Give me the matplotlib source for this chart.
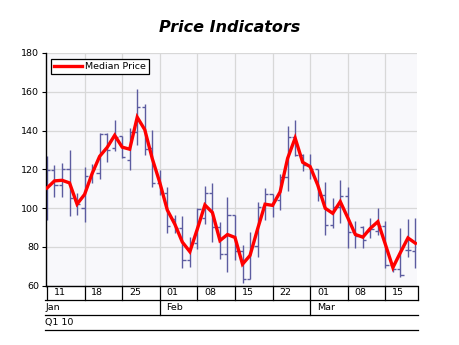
import matplotlib
matplotlib.use("Agg")
import matplotlib.pyplot as plt
import matplotlib.transforms as mtransforms
import numpy as np

# ---- data ----
high = [126.8, 122.2, 123.1, 130.0, 107.6, 121.0, 122.5, 138.5, 138.5, 145.4,
        137.2, 141.1, 161.2, 153.5, 140.3, 119.6, 111.0, 96.4, 95.9, 85.2,
        99.8, 111.4, 112.7, 92.9, 105.5, 96.4, 80.9, 87.8, 103.3, 110.1,
        107.2, 117.6, 142.3, 145.4, 127.9, 127.9, 120.0, 113.6, 105.0, 114.5,
        110.7, 93.5, 90.7, 94.7, 99.8, 93.5, 71.4, 89.5, 94.2, 94.7]
low = [93.8, 105.8, 105.5, 95.9, 96.4, 93.0, 113.0, 114.8, 124.0, 129.6,
       125.6, 119.6, 132.5, 127.4, 110.7, 106.7, 86.9, 86.9, 68.9, 69.7,
       78.7, 91.7, 82.6, 73.5, 67.1, 73.2, 61.1, 63.2, 74.9, 93.8,
       95.5, 99.0, 109.0, 126.8, 119.3, 114.8, 103.8, 86.1, 89.5, 92.1,
       79.2, 79.2, 79.2, 84.3, 86.1, 68.9, 67.1, 64.6, 74.9, 68.9]
open_ = [100.0, 119.6, 112.0, 120.0, 104.0, 100.0, 116.0, 118.0, 138.0, 131.0,
         137.2, 125.0, 139.0, 152.3, 131.0, 113.0, 107.9, 94.2, 89.5, 73.2,
         82.1, 95.0, 107.9, 90.4, 76.1, 96.4, 78.0, 63.2, 80.4, 100.7,
         107.2, 104.0, 116.0, 136.5, 127.2, 122.2, 120.0, 106.7, 91.0, 100.7,
         106.2, 87.8, 90.4, 88.0, 88.0, 90.7, 70.6, 68.5, 78.3, 78.0]
close = [119.6, 111.9, 119.9, 105.0, 102.0, 116.5, 120.0, 138.2, 130.0, 136.8,
         126.5, 139.0, 152.3, 130.3, 112.7, 107.9, 90.9, 89.5, 73.2, 81.8,
         99.3, 107.9, 90.4, 76.1, 96.4, 78.0, 63.2, 80.4, 100.7, 107.2,
         104.0, 116.0, 136.5, 127.2, 122.2, 120.0, 106.7, 91.0, 100.7, 106.2,
         87.8, 85.6, 83.5, 89.0, 90.7, 70.6, 68.5, 65.4, 78.3, 82.0]

week_starts = [0, 5, 10, 15, 20, 25, 30, 35, 40, 45]
week_labels = ["11", "18", "25", "01", "08", "15", "22", "01", "08", "15"]
month_starts = [0, 15, 35]
month_labels = ["Jan", "Feb", "Mar"]
quarter_label = "Q1 10"
yticks = [60, 80, 100, 120, 140, 160, 180]

# ---- figure ----
W, H = 460, 345
fig = plt.figure(figsize=(W / 100, H / 100), dpi=100)
ax = fig.add_axes([46 / W, (H - 285.5) / H, (417.5 - 46) / W, (285.5 - 53) / H])
ax.set_facecolor("#f8f8fb")

n = len(high)
x = np.arange(n)
median = (np.array(high) + np.array(low)) / 2.0

ax.set_xlim(-0.13, 49.27)
ax.set_ylim(60, 180)

# grid
for yv in yticks:
    ax.axhline(yv, color="#d8d8d8", lw=0.9, zorder=1)
for ws in week_starts[1:]:
    ax.axvline(ws, color="#d8d8d8", lw=0.9, zorder=1)

bar_col = "#5c5ca0"
tick_len = 0.42
ax.vlines(x, low, high, color=bar_col, lw=1.0, zorder=2)
ax.hlines(open_, x - tick_len, x, color=bar_col, lw=1.0, zorder=2)
ax.hlines(close, x, x + tick_len, color=bar_col, lw=1.0, zorder=2)

ax.plot(x, median, color="#ff0000", lw=2.4, zorder=3, label="Median Price",
        solid_joinstyle="miter")

# spines
for s in ["top", "right"]:
    ax.spines[s].set_visible(False)
ax.spines["left"].set_color("black")
ax.spines["bottom"].set_color("black")
ax.spines["left"].set_linewidth(1.0)
ax.spines["bottom"].set_linewidth(1.0)

ax.set_yticks(yticks)
ax.set_yticklabels([str(v) for v in yticks])
ax.tick_params(axis="y", length=3, width=0.8, labelsize=6.8, pad=2, colors="black")
ax.set_xticks([])

# multi-level date axis
trans = mtransforms.blended_transform_factory(ax.transData, ax.transAxes)
ah = 285.5 - 53
r1 = -(300 - 285.5) / ah
r2 = -(315 - 285.5) / ah
r3 = -(330 - 285.5) / ah
xl, xr = -0.25, 49.3
lk = dict(color="black", lw=0.9, transform=trans, clip_on=False)
fs = 6.8
for yy in (r1, r2, r3):
    ax.plot([xl, xr], [yy, yy], **lk)
for ws, lab in zip(week_starts, week_labels):
    ax.plot([ws, ws], [0, r1], **lk)
    ax.text(ws + 0.9, (0 + r1) / 2, lab, transform=trans, fontsize=fs,
            va="center", ha="left")
ax.plot([xr, xr], [0, r1], **lk)
for ms, lab in zip(month_starts, month_labels):
    if ms > 0:
        ax.plot([ms, ms], [r1, r2], **lk)
        ax.text(ms + 0.9, (r1 + r2) / 2, lab, transform=trans, fontsize=fs,
                va="center", ha="left")
    else:
        ax.text(-0.2, (r1 + r2) / 2, lab, transform=trans, fontsize=fs,
                va="center", ha="left")
ax.text(-0.2, (r2 + r3) / 2, quarter_label, transform=trans, fontsize=fs,
        va="center", ha="left")

# legend
leg = ax.legend(loc="upper left", bbox_to_anchor=(0.013, 0.975), fontsize=6.8,
                frameon=True, fancybox=False, borderpad=0.35, handlelength=3.0,
                handletextpad=0.3, borderaxespad=0)
leg.get_frame().set_edgecolor("black")
leg.get_frame().set_linewidth(0.9)
leg.get_frame().set_facecolor("white")
leg.get_frame().set_alpha(1)

fig.text(230 / W, 1 - 27 / H, "Price Indicators", ha="center", va="center",
         fontsize=11.5, fontweight="bold", fontstyle="italic")

fig.savefig("out.png", dpi=100)
